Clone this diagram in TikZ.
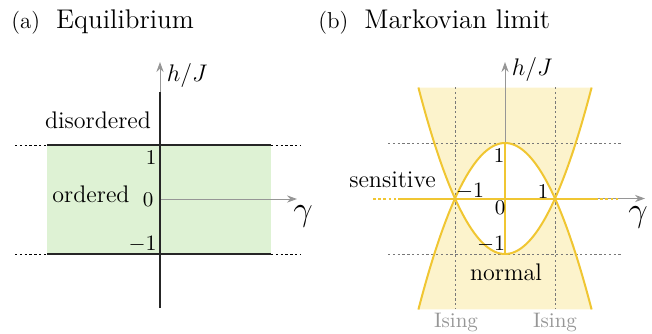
\documentclass[tikz,border=0pt]{standalone}
\usetikzlibrary{arrows.meta}
\definecolor{eqgreen}{RGB}{222,242,212}
\definecolor{myyel}{RGB}{240,198,50}
\definecolor{myyelfill}{RGB}{252,243,204}
\definecolor{axgray}{RGB}{150,150,150}
\definecolor{dotgray}{RGB}{120,120,120}
\tikzset{
  axis/.style={draw=axgray, line width=0.5pt, -{Stealth[length=5pt,width=3.6pt]}},
  blackline/.style={draw=black!85, line width=1pt},
  blackdots/.style={draw=black, line width=0.45pt, dash pattern=on 1.2pt off 1.2pt},
  graydots/.style={draw=dotgray, line width=0.5pt, dash pattern=on 1.2pt off 1.2pt},
  yelline/.style={draw=myyel, line width=1pt},
  yeldots/.style={draw=myyel, line width=1pt, dash pattern=on 1.3pt off 1.3pt},
  lbl/.style={inner sep=0pt, font=\fontsize{12}{14}\selectfont},
  num/.style={inner sep=0pt, font=\fontsize{10.5}{12}\selectfont},
  isinglbl/.style={inner sep=0pt, text=axgray, font=\fontsize{10.5}{12}\selectfont},
  axlbl/.style={inner sep=0pt, font=\fontsize{12.5}{14}\selectfont},
  gamlbl/.style={inner sep=0pt, font=\fontsize{17}{20}\selectfont},
}
\begin{document}
\begin{tikzpicture}[x=0.5pt, y=-0.5pt]
\useasboundingbox (0,0) rectangle (652,333);
% ---------- panel (a) ----------
\node[inner sep=0pt, anchor=base west] (ta) at (11,28) {{\fontsize{11.5}{13}\selectfont (a)}\hspace{8pt}{\fontsize{13.5}{16}\selectfont Equilibrium}};
\fill[eqgreen] (47,145) rectangle (271,254);
\coordinate (atl) at (15,145); \coordinate (atl2) at (47,145);
\coordinate (atr) at (271,145); \coordinate (atr2) at (300,145);
\coordinate (abl) at (15,254); \coordinate (abl2) at (47,254);
\coordinate (abr) at (271,254); \coordinate (abr2) at (300,254);
\draw[blackdots] (atl) -- (atl2);
\draw[blackdots] (atr) -- (atr2);
\draw[blackdots] (abl) -- (abl2);
\draw[blackdots] (abr) -- (abr2);
\draw[blackline] (atl2) -- (atr);
\draw[blackline] (abl2) -- (abr);
\coordinate (aorig) at (160,199);
\coordinate (agx) at (297,199);
\coordinate (ayb) at (160,308);
\coordinate (aym) at (160,92);
\coordinate (ayt) at (160,62);
\draw[axis] (aorig) -- (agx);
\draw[blackline] (ayb) -- (aym);
\draw[axis] (aym) -- (ayt);
\node[axlbl] (ahj) at (187,75) {$h/J$};
\node[gamlbl] (agam) at (303,216) {$\gamma$};
\node[lbl, anchor=base] (dis) at (98,128) {disordered};
\node[lbl, anchor=base] (ord) at (91,202) {ordered};
\node[num] (a1) at (151,158) {1};
\node[num] (a0) at (148,200) {0};
\node[num, anchor=east] (am1) at (157,244) {$-1$};
% ---------- panel (b) ----------
\node[inner sep=0pt, anchor=base west] (tb) at (318,28) {{\fontsize{11.5}{13}\selectfont (b)}\hspace{8pt}{\fontsize{13.5}{16}\selectfont Markovian limit}};
\begin{scope}[shift={(505,198.5)}, xscale=50, yscale=-55.5]
  \fill[myyelfill] plot[domain=-1.732:-1, samples=40] (\x,{\x*\x-1})
     -- plot[domain=-1:1, samples=60] (\x,{1-\x*\x})
     -- plot[domain=1:1.732, samples=40] (\x,{\x*\x-1}) -- cycle;
  \fill[myyelfill] plot[domain=-1.732:-1, samples=40] (\x,{1-\x*\x})
     -- plot[domain=-1:1, samples=60] (\x,{\x*\x-1})
     -- plot[domain=1:1.732, samples=40] (\x,{1-\x*\x}) -- cycle;
\end{scope}
% dotted guides
\coordinate (bv1t) at (455,87); \coordinate (bv1b) at (455,309);
\coordinate (bv2t) at (555,87); \coordinate (bv2b) at (555,309);
\coordinate (bh1l) at (388,143); \coordinate (bh1r) at (622,143);
\coordinate (bh2l) at (388,254); \coordinate (bh2r) at (622,254);
\draw[graydots] (bv1t) -- (bv1b);
\draw[graydots] (bv2t) -- (bv2b);
\draw[graydots] (bh1l) -- (bh1r);
\draw[graydots] (bh2l) -- (bh2r);
% axes
\coordinate (borig) at (505,198.5);
\coordinate (bgx) at (645,198.5);
\coordinate (bytop) at (505,62);
\coordinate (by1) at (505,143);
\coordinate (bym1) at (505,254);
\draw[axis] (borig) -- (bgx);
\draw[axis] (by1) -- (bytop);
% parabolas
\begin{scope}[shift={(505,198.5)}, xscale=50, yscale=-55.5]
  \draw[yelline] plot[domain=-1.732:1.732, samples=100] (\x,{1-\x*\x});
  \draw[yelline] plot[domain=-1.732:1.732, samples=100] (\x,{\x*\x-1});
\end{scope}
\coordinate (bxl0) at (373,198.5); \coordinate (bxl1) at (398,198.5);
\coordinate (bxr1) at (595,198.5); \coordinate (bxr0) at (620,198.5);
\draw[yeldots] (bxl0) -- (bxl1);
\draw[yeldots] (bxr1) -- (bxr0);
\draw[yelline] (bxl1) -- (bxr1);
\draw[yelline] (by1) -- (bym1);
\node[axlbl] (bhj) at (532,69) {$h/J$};
\node[gamlbl] (bgam) at (638,217) {$\gamma$};
\node[lbl, anchor=base] (sens) at (392.5,187) {sensitive};
\node[lbl, anchor=base] (norm) at (506,280) {normal};
\node[isinglbl, anchor=base] (is1) at (456,327) {Ising};
\node[isinglbl, anchor=base] (is2) at (555,327) {Ising};
\node[num] (b1) at (499,155) {1};
\node[num] (bm1l) at (470,191) {$-1$};
\node[num] (b1r) at (543,191) {1};
\node[num] (b0) at (500,208) {0};
\node[num] (bm1b) at (491,244) {$-1$};
\end{tikzpicture}
\end{document}
